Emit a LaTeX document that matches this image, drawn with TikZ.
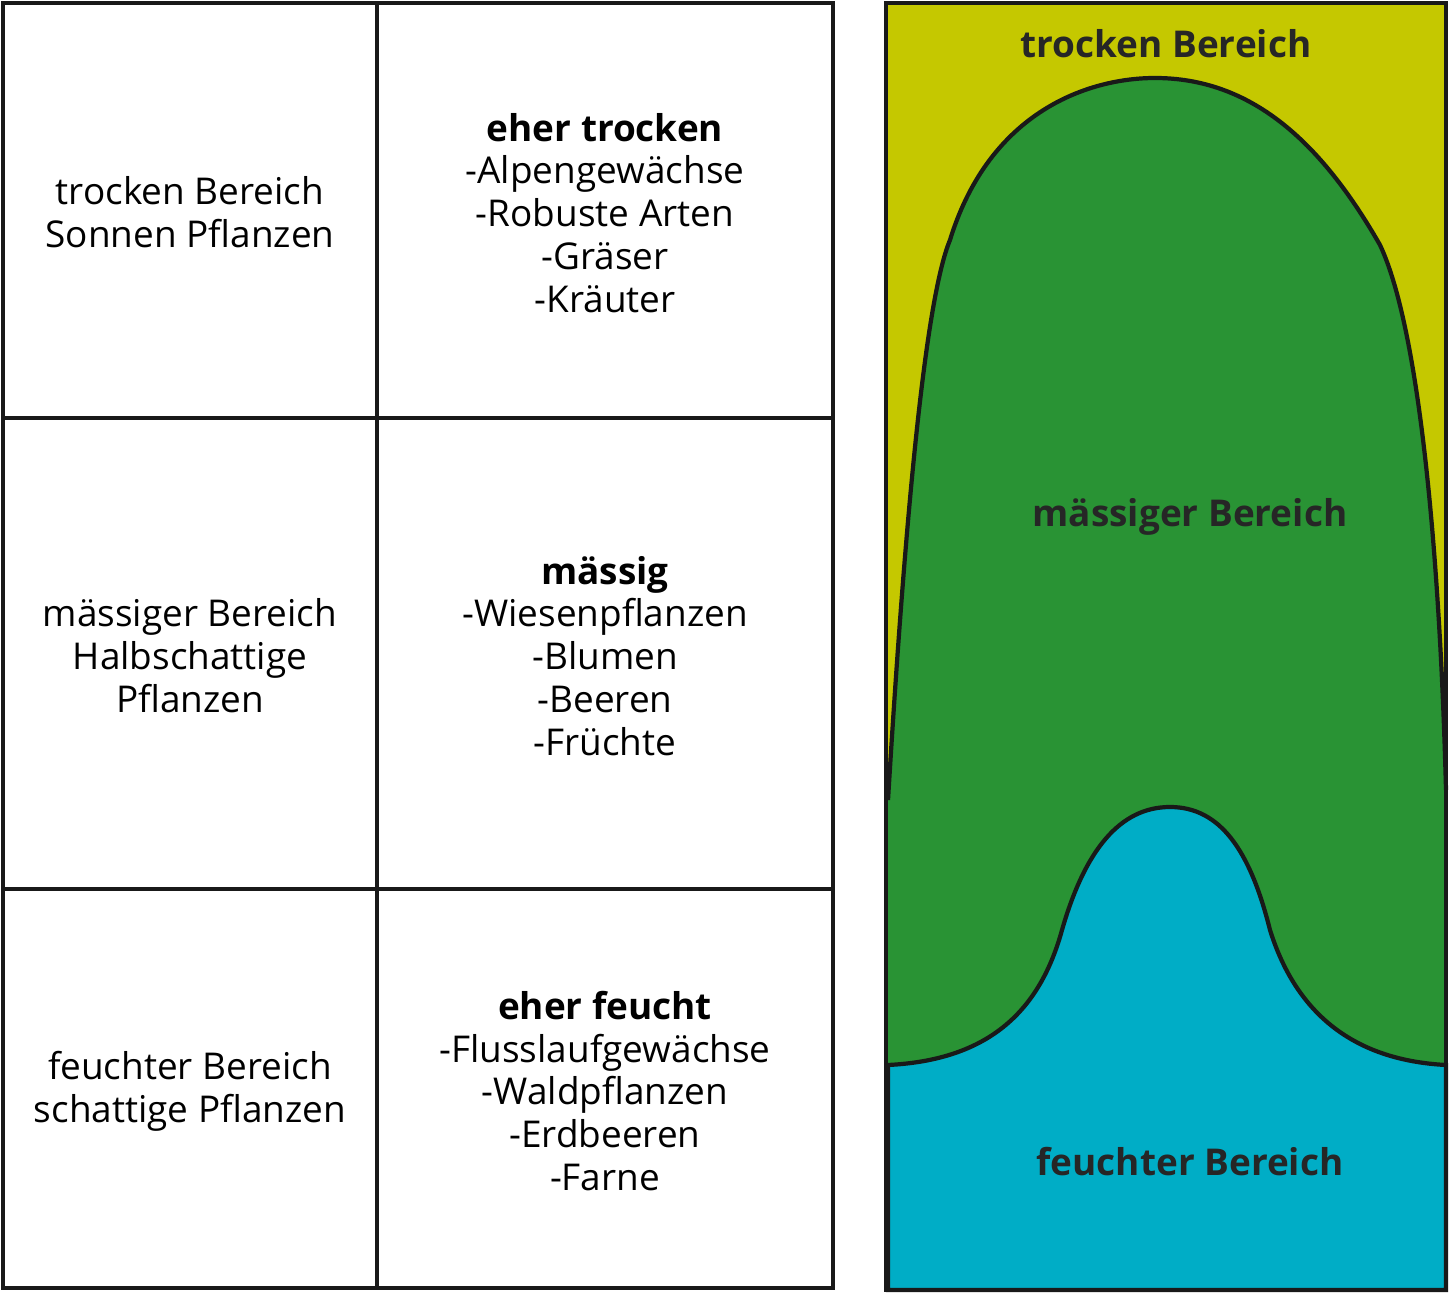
\documentclass[tikz,border=0pt]{standalone}
\usepackage{fontspec}
\setmainfont{Open Sans}
\usetikzlibrary{positioning}

\begin{document}
\begin{tikzpicture}[x=0.01cm,y=-0.01cm]
\tikzset{
    cell/.style={draw=black!90, line width=1.2pt},
    celltext/.style={align=center, font=\fontsize{10.5}{12.2}\selectfont},
    zonetext/.style={font=\fontsize{10.5}{12.2}\selectfont\bfseries, text=black!85}
}
\useasboundingbox (0,0) rectangle (1451,1294);
% Tabelle
\draw[cell] (3,3) rectangle (833,1288);
\draw[cell] (377,3) -- (377,1288);
\draw[cell] (3,418) -- (833,418);
\draw[cell] (3,889) -- (833,889);
\node[celltext] (dry) at (190,212) {trocken Bereich\\Sonnen Pflanzen};
\node[celltext] (mid) at (190,656) {mässiger Bereich\\Halbschattige\\Pflanzen};
\node[celltext] (wet) at (190,1091) {feuchter Bereich\\schattige Pflanzen};
\node[celltext] (dryplants) at (605,213) {\textbf{eher trocken}\\-Alpengewächse\\-Robuste Arten\\-Gräser\\-Kräuter};
\node[celltext] (midplants) at (605,656) {\textbf{mässig}\\-Wiesenpflanzen\\-Blumen\\-Beeren\\-Früchte};
\node[celltext] (wetplants) at (605,1091) {\textbf{eher feucht}\\-Flusslaufgewächse\\-Waldpflanzen\\-Erdbeeren\\-Farne};
% Bereiche
\fill[fill={rgb,255:red,197;green,200;blue,0}] (886,3) rectangle (1446,1290);
\fill[fill={rgb,255:red,41;green,147;blue,52}] (888,800)
  .. controls (905,520) and (925,300) .. (950,240)
  .. controls (990,110) and (1090,78) .. (1155,78)
  .. controls (1250,78) and (1320,140) .. (1380,245)
  .. controls (1420,330) and (1440,560) .. (1446,790)
  -- (1446,1290) -- (888,1290) -- cycle;
\draw[line width=1.2pt, black!90] (888,800)
  .. controls (905,520) and (925,300) .. (950,240)
  .. controls (990,110) and (1090,78) .. (1155,78)
  .. controls (1250,78) and (1320,140) .. (1380,245)
  .. controls (1420,330) and (1440,560) .. (1446,790);
\filldraw[fill={rgb,255:red,0;green,173;blue,198}, draw=black!90, line width=1.2pt] (888,1065)
  .. controls (990,1060) and (1040,1010) .. (1062,930)
  .. controls (1085,850) and (1120,807) .. (1170,807)
  .. controls (1220,807) and (1250,850) .. (1270,930)
  .. controls (1295,1010) and (1350,1060) .. (1446,1065)
  -- (1446,1290) -- (888,1290) -- cycle;
\draw[cell] (886,3) rectangle (1446,1290);
\node[zonetext] (dryzone) at (1166,44) {trocken Bereich};
\node[zonetext] (midzone) at (1190,517) {mässiger Bereich};
\node[zonetext] (wetzone) at (1190,1162) {feuchter Bereich};
\end{tikzpicture}
\end{document}
